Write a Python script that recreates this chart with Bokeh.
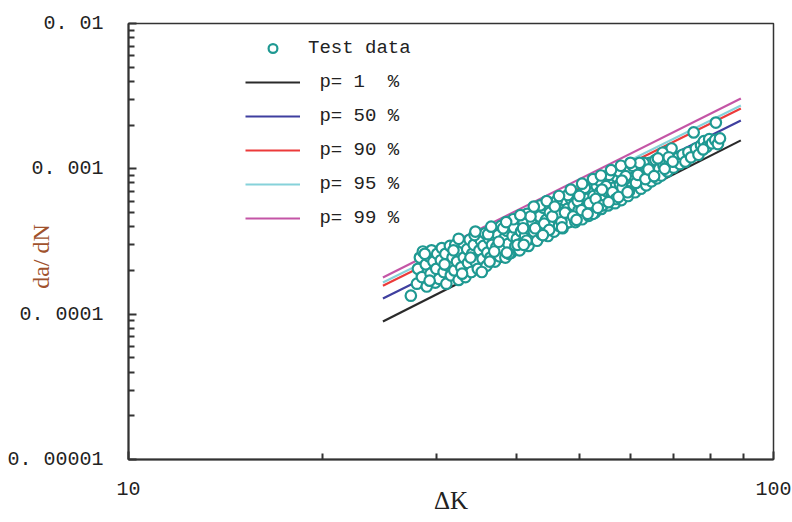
from bokeh.plotting import figure
from bokeh.models import (LogAxis, FixedTicker, CustomJSTickFormatter, Legend, LegendItem, Range1d, LogScale)
from bokeh.embed import file_html
from bokeh.resources import INLINE

# ---------------- data ----------------
test_points = [
    (27.4,1.34e-4),(28.0,1.62e-4),(28.1,2.05e-4),(28.3,2.45e-4),(28.5,1.8e-4),(28.6,2.7e-4),(28.9,2.2e-4),(29.0,1.55e-4),
    (29.2,2.5e-4),(29.4,1.9e-4),(29.5,2.75e-4),(29.7,2.3e-4),(29.9,1.65e-4),(30.0,2.05e-4),(30.1,2.6e-4),
    (30.3,1.75e-4),(30.5,2.35e-4),(30.6,2.85e-4),(30.8,1.95e-4),(31.0,2.6e-4),(31.1,1.62e-4),(31.3,2.15e-4),(31.5,2.95e-4),
    (31.6,1.85e-4),(31.8,2.45e-4),(32.0,2.0e-4),(32.1,3.0e-4),(32.3,2.3e-4),(32.5,1.72e-4),(32.6,2.7e-4),(32.8,2.1e-4),
    (33.0,3.1e-4),(33.1,2.45e-4),
    (33.3,1.8e-4),(33.5,2.8e-4),(33.6,2.25e-4),(33.8,3.25e-4),(34.0,1.95e-4),(34.1,2.6e-4),(34.3,3.0e-4),(34.5,2.3e-4),
    (34.7,3.45e-4),(34.8,2.05e-4),(35.0,2.75e-4),(35.2,3.2e-4),(35.4,2.4e-4),(35.5,2.95e-4),(35.7,3.6e-4),(35.9,2.15e-4),
    (36.0,2.65e-4),(36.2,3.3e-4),(36.4,2.45e-4),(36.6,3.0e-4),(36.8,3.8e-4),(37.0,2.3e-4),
    (37.2,2.9e-4),(37.4,3.5e-4),(37.6,2.5e-4),(37.8,4.05e-4),(38.0,2.85e-4),(38.2,3.3e-4),(38.4,2.45e-4),(38.6,3.75e-4),
    (38.8,3.05e-4),(39.0,4.3e-4),(39.2,2.65e-4),(39.4,3.45e-4),(39.6,3.95e-4),(39.8,2.95e-4),(40.0,3.3e-4),(40.2,4.6e-4),
    (40.4,2.75e-4),(40.6,3.7e-4),(40.8,3.1e-4),(41.0,4.3e-4),(41.2,3.45e-4),(41.5,4.9e-4),(41.7,2.95e-4),(41.9,3.85e-4),
    (42.1,3.3e-4),(42.3,4.3e-4),(42.5,3.7e-4),(42.8,5.1e-4),(43.0,3.2e-4),(43.2,4.0e-4),(43.4,4.7e-4),(43.7,3.55e-4),
    (44.0,5.4e-4),(44.2,3.85e-4),(44.4,4.45e-4),(44.7,3.45e-4),(45.0,5.0e-4),(45.2,4.1e-4),(45.5,5.8e-4),(45.7,3.7e-4),
    (46.0,4.6e-4),(46.3,5.4e-4),(46.5,4.05e-4),(46.8,4.95e-4),(47.1,3.9e-4),(47.4,6.1e-4),(47.6,4.5e-4),(47.9,5.3e-4),
    (48.2,4.3e-4),(48.5,6.2e-4),(48.7,5.0e-4),(49.0,5.6e-4),(49.3,4.3e-4),(49.6,6.6e-4),(49.9,5.2e-4),(50.2,5.9e-4),
    (50.5,4.5e-4),(50.8,6.9e-4),(51.1,5.4e-4),(51.4,6.2e-4),(51.7,4.75e-4),(52.0,7.3e-4),(52.3,5.6e-4),(52.6,6.5e-4),
    (52.9,5.0e-4),(53.2,7.6e-4),(53.5,5.9e-4),(53.8,6.9e-4),(54.1,5.3e-4),(54.5,8.0e-4),(54.8,6.3e-4),
    (55.1,7.0e-4),(55.4,5.6e-4),(55.8,8.3e-4),(56.1,6.4e-4),(56.4,7.4e-4),(56.8,5.8e-4),(57.1,8.8e-4),(57.4,6.6e-4),
    (57.8,7.8e-4),(58.1,6.1e-4),(58.5,9.4e-4),(58.8,7.1e-4),(59.2,8.3e-4),(59.5,6.5e-4),(59.9,9.8e-4),(60.3,7.5e-4),
    (60.7,8.7e-4),(61.0,6.9e-4),(61.4,1.02e-3),(61.8,7.9e-4),
    (62.3,7.3e-4),(62.7,8.6e-4),(63.1,1.05e-3),(63.5,7.7e-4),(63.9,9.2e-4),(64.3,1.1e-3),(64.7,8.2e-4),(65.1,9.6e-4),
    (65.6,1.15e-3),(66.0,8.6e-4),(66.5,1.0e-3),(67.0,9.0e-4),(67.5,1.06e-3),(68.0,1.3e-3),(68.5,9.6e-4),(69.0,1.1e-3),
    (69.5,1.38e-3),
    (62.9,1.1e-3),(67.3,1.29e-3),(75.2,1.78e-3),(81.4,2.08e-3),(70.0,1.02e-3),(70.8,1.18e-3),(71.6,1.08e-3),(72.3,1.25e-3),
    (73.0,1.12e-3),(73.8,1.3e-3),(74.5,1.2e-3),(75.8,1.38e-3),(76.5,1.25e-3),(77.2,1.45e-3),(78.0,1.55e-3),(78.8,1.42e-3),
    (79.5,1.6e-3),(80.3,1.5e-3),(81.2,1.58e-3),(82.0,1.48e-3),(82.6,1.62e-3),(77.8,1.36e-3),
    (28.8,2.6e-4),(29.3,1.7e-4),(30.9,2.2e-4),(31.9,2.75e-4),(32.9,1.9e-4),(33.9,2.45e-4),(34.4,3.5e-4),(35.3,1.95e-4),
    (36.1,3.55e-4),(36.9,2.7e-4),(37.5,3.15e-4),(38.1,3.9e-4),(38.9,2.6e-4),(39.5,4.5e-4),(40.1,3.0e-4),(40.9,3.9e-4),
    (41.4,3.2e-4),(42.0,4.7e-4),(42.7,3.9e-4),(43.5,5.6e-4),(44.1,4.2e-4),(44.9,3.8e-4),(45.4,4.7e-4),(46.1,6.0e-4),
    (46.9,4.3e-4),(47.5,5.0e-4),(48.0,6.6e-4),(48.9,4.7e-4),(49.7,6.0e-4),(50.4,5.2e-4),(51.0,7.4e-4),(51.8,5.8e-4),
    (52.5,4.9e-4),(53.0,6.2e-4),(53.7,8.3e-4),(54.3,5.6e-4),(55.0,7.6e-4),(55.6,9.1e-4),(56.3,6.9e-4),(57.0,6.2e-4),
    (57.6,9.6e-4),(58.3,7.4e-4),(59.0,8.9e-4),(59.7,7.0e-4),(60.5,1.05e-3),(61.2,8.0e-4),(61.6,9.1e-4),(62.0,1.1e-3),
    (63.3,8.5e-4),(64.0,9.9e-4),(65.3,8.9e-4),(66.2,1.18e-3),(67.8,1.0e-3),(68.8,1.2e-3),(69.8,1.12e-3),
    (32.5,3.3e-4),(34.5,3.7e-4),(36.5,4.0e-4),(38.5,4.3e-4),(40.5,4.8e-4),(42.5,5.5e-4),(44.5,6.0e-4),(46.5,6.5e-4),
    (48.5,7.2e-4),(50.5,7.9e-4),(52.5,8.5e-4),(54.0,9.0e-4),(56.0,9.8e-4),(58.0,1.05e-3),(60.0,1.1e-3),
    (43.9,3.5e-4),(47.0,3.95e-4),(49.5,4.45e-4),(51.5,4.9e-4),(53.4,5.4e-4),(55.5,5.9e-4),(57.5,6.4e-4),(59.4,6.9e-4),
    (41.0,3.0e-4),(38.6,2.65e-4),(36.3,2.3e-4),(45.8,5.5e-4),(50.0,6.5e-4),(54.2,7.2e-4),(58.2,8.3e-4),
]
test_dk = [t[0] for t in test_points]
test_dadn = [t[1] for t in test_points]

line_dk = [24.8, 89.0]
p1 = [8.9e-5, 1.57e-3]
p50 = [1.28e-4, 2.15e-3]
p90 = [1.57e-4, 2.6e-3]
p95 = [1.65e-4, 2.73e-3]
p99 = [1.79e-4, 3.05e-3]
line_labels = [" p= 1  %", " p= 50 %", " p= 90 %", " p= 95 %", " p= 99 %"]

y_major = [1e-5, 1e-4, 1e-3, 1e-2]
y_tick_labels = ["0. 00001", "0. 0001", "0. 001", "0. 01"]
x_major = [10, 100]
x_tick_labels = ["10", "100"]
mantissas = [2, 3, 4, 5, 6, 7, 8, 9]

# ---------------- figure ----------------
W, H = 792, 522
p = figure(width=W, height=H, x_axis_type=None, y_axis_type=None,
           x_range=Range1d(10, 100), y_range=Range1d(1e-5, 1e-2),
           output_backend="svg", toolbar_location=None,
           min_border_left=128, min_border_right=19, min_border_top=23, min_border_bottom=63)
p.x_scale = LogScale()
p.y_scale = LogScale()
p.xgrid.visible = False
p.ygrid.visible = False
p.outline_line_color = "#333333"
p.outline_line_width = 1.5
p.background_fill_color = "white"
p.border_fill_color = "white"

mono = "Liberation Mono"

y_minor = [m * v for v in y_major[:-1] for m in mantissas]
x_minor = [m * v for v in x_major[:-1] for m in mantissas]

yfmt = CustomJSTickFormatter(args=dict(vals=y_major, labels=y_tick_labels),
    code="for (let i = 0; i < vals.length; i++) { if (Math.abs(Math.log10(tick) - Math.log10(vals[i])) < 1e-6) return labels[i]; } return '';")
xfmt = CustomJSTickFormatter(args=dict(vals=x_major, labels=x_tick_labels),
    code="for (let i = 0; i < vals.length; i++) { if (Math.abs(Math.log10(tick) - Math.log10(vals[i])) < 1e-6) return labels[i]; } return '';")

yaxis = LogAxis(ticker=FixedTicker(ticks=y_major, minor_ticks=y_minor), formatter=yfmt)
xaxis = LogAxis(ticker=FixedTicker(ticks=x_major, minor_ticks=x_minor), formatter=xfmt)
for ax in (xaxis, yaxis):
    ax.major_tick_in = 8
    ax.major_tick_out = 0
    ax.minor_tick_in = 6
    ax.minor_tick_out = 0
    ax.axis_line_color = "#333333"
    ax.axis_line_width = 2
    ax.major_tick_line_color = "#333333"
    ax.major_tick_line_width = 2
    ax.minor_tick_line_color = "#333333"
    ax.minor_tick_line_width = 2
    ax.major_label_text_font = mono
    ax.major_label_text_font_size = "20px"
    ax.major_label_text_color = "#222222"
yaxis.major_label_standoff = 25
xaxis.major_label_standoff = 22

yaxis.axis_label = "da/ dN" + "\u00a0" * 5
yaxis.axis_label_text_font = "Liberation Serif"
yaxis.axis_label_text_font_size = "24px"
yaxis.axis_label_text_font_style = "normal"
yaxis.axis_label_text_color = "#a0522d"
yaxis.axis_label_standoff = -50

xaxis.axis_label = "ΔK"
xaxis.axis_label_text_font = "Liberation Serif"
xaxis.axis_label_text_font_size = "25px"
xaxis.axis_label_text_font_style = "normal"
xaxis.axis_label_text_color = "#222222"
xaxis.axis_label_standoff = -11

p.add_layout(yaxis, "left")
p.add_layout(xaxis, "below")

# ---------------- glyphs ----------------
colors = ["#2a2a2a", "#3f3f9f", "#ec3a3a", "#86d2da", "#c455a6"]
line_renderers = []
for vals, c in zip([p1, p50, p90, p95, p99], colors):
    r = p.line(line_dk, vals, line_color=c, line_width=2.2)
    line_renderers.append(r)

pts = p.scatter(test_dk, test_dadn, marker="circle", size=10.5, line_color="#1f9992",
                line_width=2.2, fill_color="white")

items = [LegendItem(label="Test data", renderers=[pts])]
for lab, r in zip(line_labels, line_renderers):
    items.append(LegendItem(label=lab, renderers=[r]))
legend = Legend(items=items, location=(117, 230), orientation="vertical",
                glyph_width=55, glyph_height=22, label_height=22, spacing=12,
                label_standoff=8, padding=0, margin=0,
                label_text_font=mono, label_text_font_size="19px", label_text_color="#222222",
                border_line_color=None, background_fill_alpha=0)
p.add_layout(legend, "center")

open("out.html", "w").write(file_html(p, INLINE))
